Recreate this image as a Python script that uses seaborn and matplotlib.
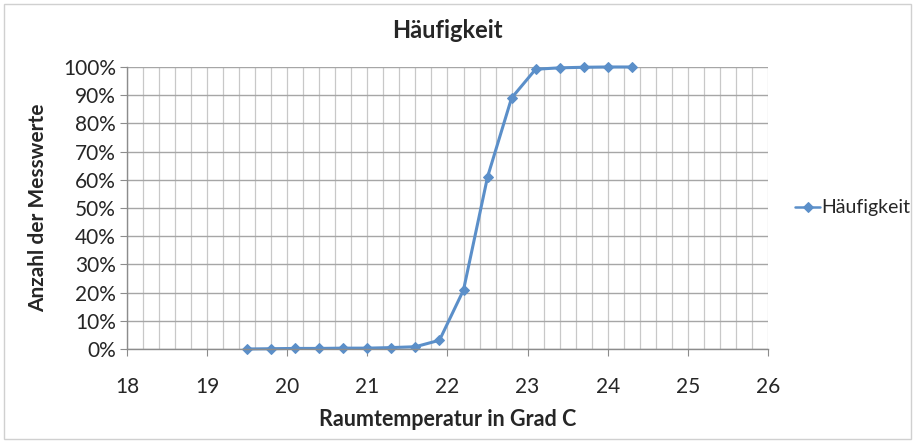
import matplotlib.pyplot as plt
import matplotlib.ticker as mticker
from matplotlib.patches import Rectangle
import seaborn as sns
import pandas as pd

temperatur = [19.5, 19.8, 20.1, 20.4, 20.7, 21.0, 21.3, 21.6, 21.9,
              22.2, 22.5, 22.8, 23.1, 23.4, 23.7, 24.0, 24.3]
haeufigkeit = [0.0, 0.1, 0.2, 0.2, 0.3, 0.3, 0.5, 0.8, 3.1,
               20.9, 61.0, 89.0, 99.2, 99.7, 99.9, 100.0, 100.0]

df = pd.DataFrame({"Temperatur": temperatur, "Häufigkeit": haeufigkeit})

sns.set_style("white")
plt.rcParams["font.family"] = ["Lato", "DejaVu Sans"]

fig = plt.figure(figsize=(9.15, 4.43), dpi=100)
ax = fig.add_axes([0.1388, 0.2122, 0.7005, 0.6366])

sns.lineplot(
    data=df, x="Temperatur", y="Häufigkeit", ax=ax,
    color="#5b8fc9", linewidth=2.2, marker="D", markersize=5.5,
    markeredgecolor="#5b8fc9", label="Häufigkeit", clip_on=False
)

ax.set_xlim(18, 26)
ax.set_ylim(0, 100)
ax.xaxis.set_major_locator(mticker.MultipleLocator(1))
ax.xaxis.set_minor_locator(mticker.MultipleLocator(0.2))
ax.yaxis.set_major_locator(mticker.MultipleLocator(10))
ax.yaxis.set_major_formatter(mticker.FuncFormatter(lambda v, p: f"{v:.0f}%"))

ax.grid(which="major", axis="y", color="#a6a6a6", linewidth=1.0)
ax.grid(which="both", axis="x", color="#c8c8c8", linewidth=0.9)
ax.set_axisbelow(True)

for side in ["top", "right"]:
    ax.spines[side].set_visible(False)
for side in ["left", "bottom"]:
    ax.spines[side].set_color("#8c8c8c")
    ax.spines[side].set_linewidth(1.0)

ax.tick_params(axis="x", which="major", direction="out", length=5,
               color="#8c8c8c", labelsize=15, pad=15, bottom=True)
ax.tick_params(axis="x", which="minor", length=0)
ax.tick_params(axis="y", direction="out", length=5, color="#8c8c8c",
               labelsize=15, pad=3, left=True)

ax.set_title("Häufigkeit", fontsize=17, fontweight="bold", pad=21)
ax.set_xlabel("Raumtemperatur in Grad C", fontsize=15.5, fontweight="bold", labelpad=9)
ax.set_ylabel("Anzahl der Messwerte", fontsize=15, fontweight="bold", labelpad=11)

leg = ax.legend(loc="center left", bbox_to_anchor=(1.0, 0.5), frameon=False,
                fontsize=14, handlelength=1.3, handletextpad=0.05,
                borderaxespad=1.2, borderpad=0.2)
for h in leg.get_lines():
    h.set_linewidth(1.8)
    h.set_markersize(5)

fig.patches.append(Rectangle((0.004, 0.009), 0.992, 0.982, transform=fig.transFigure,
                             fill=False, edgecolor="#d0d0d0", linewidth=1.0))

fig.savefig("out.png", dpi=100)
plt.close(fig)
